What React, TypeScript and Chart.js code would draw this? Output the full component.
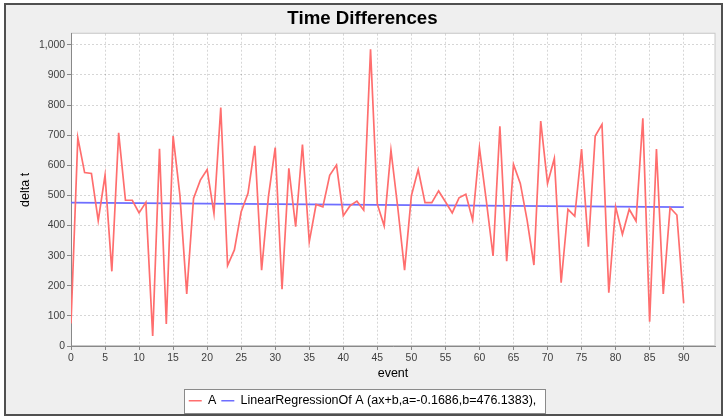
import React, { useEffect, useRef } from "react";
import { Chart, registerables } from "chart.js";

Chart.register(...registerables);

const eventIndex: number[] = Array.from({ length: 91 }, (_, i) => i);
const deltaT: number[] = [
  75, 692, 576, 573, 416, 567, 248, 708, 484, 484,
  442, 477, 33, 655, 73, 697, 500, 173, 490, 551,
  586, 440, 792, 267, 319, 446, 507, 665, 252, 496,
  659, 189, 590, 396, 669, 346, 470, 462, 567, 601,
  433, 466, 481, 451, 985, 471, 399, 650, 460, 252,
  499, 586, 476, 476, 515, 479, 442, 492, 504, 418,
  658, 484, 299, 730, 282, 603, 540, 418, 269, 747,
  540, 623, 210, 454, 431, 654, 330, 697, 736, 177,
  462, 371, 454, 415, 756, 81, 654, 173, 459, 435,
  142,
];
const regressionX: number[] = [0, 90];
const regressionY: number[] = [476.14, 460.96];
const xTicks: number[] = [0, 5, 10, 15, 20, 25, 30, 35, 40, 45, 50, 55, 60, 65, 70, 75, 80, 85, 90];
const yTicks: number[] = [0, 100, 200, 300, 400, 500, 600, 700, 800, 900, 1000];
const seriesNames: string[] = ["A", "LinearRegressionOf A (ax+b,a=-0.1686,b=476.1383),"];

const FONT = "'Liberation Sans', Arial, sans-serif";

const framePlugin = {
  id: "framePlugin",
  beforeDraw(chart: any) {
    const { ctx, width, height, chartArea } = chart;
    ctx.save();
    ctx.fillStyle = "#ffffff";
    ctx.fillRect(0, 0, width, height);
    ctx.fillStyle = "#efefef";
    ctx.fillRect(5, 4, 717, 411);
    ctx.strokeStyle = "#505050";
    ctx.lineWidth = 2;
    ctx.strokeRect(5, 4, 717, 411);
    // plot background
    ctx.fillStyle = "#ffffff";
    ctx.fillRect(chartArea.left, chartArea.top, chartArea.right - chartArea.left, chartArea.bottom - chartArea.top);
    ctx.strokeStyle = "#c8c8c8";
    ctx.lineWidth = 1;
    ctx.strokeRect(chartArea.left + 0.5, chartArea.top - 0.5, chartArea.right - chartArea.left - 0.5, chartArea.bottom - chartArea.top);
    // legend box
    const lg = chart.legend;
    if (lg && lg.legendHitBoxes && lg.legendHitBoxes.length) {
      const hb = lg.legendHitBoxes;
      const first = hb[0];
      const last = hb[hb.length - 1];
      const l = Math.round(first.left - 5) + 0.5;
      const r = Math.round(last.left + last.width + 9) + 0.5;
      const t = Math.round(first.top - 5.5) + 0.5;
      const b = Math.round(first.top + first.height + 5.5) + 0.5;
      ctx.fillStyle = "#ffffff";
      ctx.fillRect(l, t, r - l, b - t);
      ctx.strokeStyle = "#8a8a8a";
      ctx.strokeRect(l, t, r - l, b - t);
    }
    ctx.restore();
  },
};

export default function App() {
  const canvasRef = useRef<HTMLCanvasElement | null>(null);

  useEffect(() => {
    document.body.style.margin = "0";
    const canvas = canvasRef.current;
    if (!canvas) return;
    const chart = new Chart(canvas, {
      type: "line",
      data: {
        datasets: [
          {
            label: seriesNames[0],
            data: eventIndex.map((x, i) => ({ x, y: deltaT[i] })),
            borderColor: "rgb(255,110,110)",
            backgroundColor: "rgb(255,110,110)",
            borderWidth: 1.7,
            pointRadius: 0,
            tension: 0,
            xAxisID: "x",
            yAxisID: "y",
          },
          {
            label: seriesNames[1],
            data: regressionX.map((x, i) => ({ x, y: regressionY[i] })),
            borderColor: "rgb(110,110,255)",
            backgroundColor: "rgb(110,110,255)",
            borderWidth: 1.7,
            pointRadius: 0,
            tension: 0,
            xAxisID: "x",
            yAxisID: "y",
          },
        ],
      },
      options: {
        animation: false,
        responsive: false,
        maintainAspectRatio: false,
        events: [],
        layout: { padding: 0 },
        scales: {
          x: {
            type: "linear",
            position: "bottom",
            min: 0,
            max: 94.6,
            afterBuildTicks: (scale: any) => {
              scale.ticks = xTicks.map((v) => ({ value: v }));
            },
            afterFit: (scale: any) => {
              scale.height = 43.5;
            },
            ticks: {
              autoSkip: false,
              maxRotation: 0,
              padding: 2,
              color: "#404040",
              font: { family: FONT, size: 10.4 },
              callback: (v: any) => String(v),
            },
            grid: {
              color: "rgba(0,0,0,0.16)",
              lineWidth: 1,
              tickLength: 4,
              tickColor: "#888888",
              drawTicks: true,
            },
            border: { display: true, color: "#888888", width: 1, dash: [2, 2] },
            title: {
              display: true,
              text: "event",
              color: "#000000",
              font: { family: FONT, size: 12.5 },
              padding: { top: 0, bottom: 8 },
            },
          },
          y: {
            type: "linear",
            position: "left",
            min: 0,
            max: 1037,
            afterBuildTicks: (scale: any) => {
              scale.ticks = yTicks.map((v) => ({ value: v }));
            },
            afterFit: (scale: any) => {
              scale.width = 71;
            },
            ticks: {
              autoSkip: false,
              padding: 2,
              color: "#404040",
              font: { family: FONT, size: 10.4 },
              callback: (v: any) => Number(v).toLocaleString("en-US"),
            },
            grid: {
              color: "rgba(0,0,0,0.16)",
              lineWidth: 1,
              tickLength: 4,
              tickColor: "#888888",
            },
            border: { display: true, color: "#888888", width: 1, dash: [2, 2] },
            title: {
              display: true,
              text: "delta t",
              color: "#000000",
              font: { family: FONT, size: 12.5 },
              padding: { top: 18.5, bottom: 0 },
            },
          },
          yRight: {
            type: "linear",
            position: "right",
            display: true,
            afterFit: (scale: any) => {
              scale.width = 10;
            },
            ticks: { display: false },
            grid: { display: false, drawTicks: false },
            border: { display: false },
          },
        },
        plugins: {
          title: {
            display: true,
            text: "Time Differences",
            color: "#000000",
            font: { family: FONT, size: 18.7, weight: "bold" },
            padding: { top: 7.2, bottom: 4.1 },
          },
          legend: {
            display: true,
            position: "bottom",
            align: "center",
            labels: {
              usePointStyle: true,
              pointStyle: "line",
              pointStyleWidth: 13,
              padding: 5,
              color: "#000000",
              font: { family: FONT, size: 12.5 },
              generateLabels: (chart: any) =>
                chart.data.datasets.map((ds: any, i: number) => ({
                  text: ds.label,
                  strokeStyle: ds.borderColor,
                  fillStyle: ds.borderColor,
                  lineWidth: 1.5,
                  pointStyle: "line",
                  hidden: false,
                  datasetIndex: i,
                  fontColor: "#000000",
                })),
            },
          },
          tooltip: { enabled: false },
        },
      },
      plugins: [framePlugin],
    } as any);
    return () => chart.destroy();
  }, []);

  return (
    <div style={{ position: "fixed", left: 0, top: 0, width: 725, height: 417 }}>
      <canvas ref={canvasRef} width={725} height={417} style={{ width: 725, height: 417, display: "block" }} />
    </div>
  );
}
